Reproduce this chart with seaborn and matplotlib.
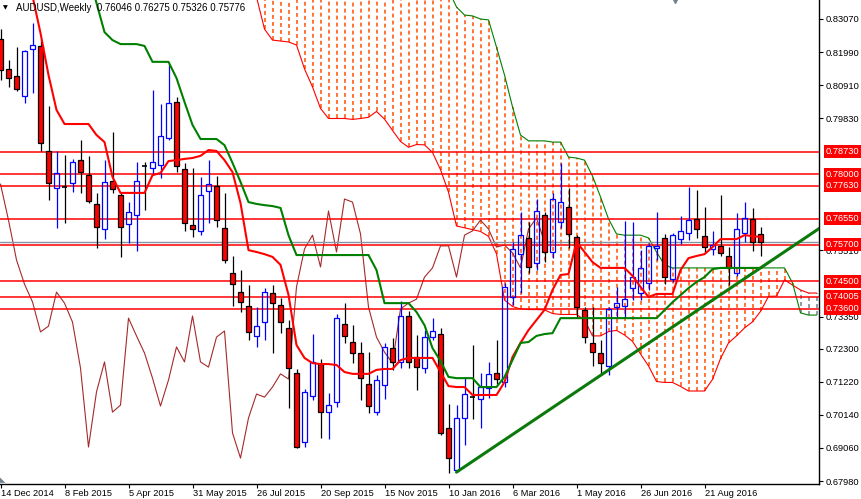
import numpy as np
import pandas as pd
import matplotlib
matplotlib.use("Agg")
import matplotlib.pyplot as plt
import matplotlib.transforms as mtransforms
import seaborn as sns

nan = np.nan
symbol = "AUDUSD,Weekly"
dates = pd.date_range("2014-12-14", periods=96, freq="W-SUN")

# weekly candles
opens = [
    0.8242, 0.8144, 0.8121, 0.8055, 0.8209, 0.8219, 0.7876, 0.7755, 0.7758, 0.7771,
    0.7846, 0.7797, 0.7703, 0.7621, 0.7778, 0.7732, 0.7637, 0.7667, 0.7827, 0.7820,
    0.7830, 0.7918, 0.8036, 0.7817, 0.7634, 0.7615, 0.7745, 0.7762, 0.7624, 0.7477,
    0.7415, 0.7370, 0.7272, 0.7317, 0.7412, 0.7373, 0.7298, 0.7151, 0.6925, 0.7076,
    0.7180, 0.7023, 0.7056, 0.7311, 0.7252, 0.7216, 0.7115, 0.7023, 0.7112, 0.7232,
    0.7187, 0.7337, 0.7203, 0.7167, 0.7268, 0.7278, 0.6971, 0.6834, 0.7004, 0.7072,
    0.7066, 0.7102, 0.7151, 0.7121, 0.7399, 0.7539, 0.7592, 0.7510, 0.7667, 0.7546,
    0.7644, 0.7693, 0.7595, 0.7357, 0.7249, 0.7216, 0.7174, 0.7366, 0.7370, 0.7428,
    0.7412, 0.7445, 0.7559, 0.7592, 0.7458, 0.7588, 0.7608, 0.7654, 0.7598, 0.7556,
    0.7566, 0.7533, 0.7477, 0.7608, 0.7654, 0.76046]
highs = [
    0.8274, 0.8173, 0.8215, 0.8206, 0.8294, 0.8238, 0.8023, 0.7876, 0.7863, 0.7850,
    0.7912, 0.7860, 0.7739, 0.7846, 0.7938, 0.7739, 0.7709, 0.7840, 0.7840, 0.8075,
    0.8029, 0.8160, 0.8052, 0.7837, 0.7820, 0.7791, 0.7846, 0.7794, 0.7739, 0.7533,
    0.7487, 0.7438, 0.7366, 0.7428, 0.7438, 0.7396, 0.7324, 0.7164, 0.7099, 0.7278,
    0.7197, 0.7085, 0.7344, 0.7379, 0.7307, 0.7252, 0.7219, 0.7144, 0.7249, 0.7265,
    0.7386, 0.7353, 0.7275, 0.7291, 0.7330, 0.7298, 0.7050, 0.7046, 0.7138, 0.7242,
    0.7151, 0.7187, 0.7259, 0.7445, 0.7579, 0.7677, 0.7644, 0.7719, 0.7677, 0.7739,
    0.7837, 0.7755, 0.7601, 0.7366, 0.7366, 0.7259, 0.7366, 0.7432, 0.7647, 0.7644,
    0.7552, 0.7575, 0.7677, 0.7605, 0.7608, 0.7664, 0.7758, 0.7748, 0.7693, 0.7615,
    0.7732, 0.7562, 0.7673, 0.7709, 0.7690, 0.76275]
lows = [
    0.8108, 0.8085, 0.8072, 0.8033, 0.8065, 0.7876, 0.7716, 0.7624, 0.7641, 0.7742,
    0.7739, 0.7706, 0.7559, 0.7588, 0.7739, 0.7530, 0.7575, 0.7549, 0.7683, 0.7797,
    0.7788, 0.7912, 0.7807, 0.7615, 0.7595, 0.7601, 0.7641, 0.7628, 0.7510, 0.7370,
    0.7350, 0.7259, 0.7236, 0.7259, 0.7216, 0.7281, 0.7036, 0.6906, 0.6909, 0.7063,
    0.6939, 0.6935, 0.7040, 0.7249, 0.7183, 0.7063, 0.7020, 0.7014, 0.7066, 0.7161,
    0.7167, 0.7167, 0.7095, 0.7151, 0.7259, 0.6948, 0.6824, 0.6827, 0.6916, 0.7001,
    0.6971, 0.7069, 0.7115, 0.7105, 0.7373, 0.7412, 0.7477, 0.7487, 0.7513, 0.7526,
    0.7624, 0.7559, 0.7330, 0.7249, 0.7174, 0.7144, 0.7144, 0.7330, 0.7330, 0.7389,
    0.7389, 0.7422, 0.7520, 0.7441, 0.7448, 0.7572, 0.7585, 0.7592, 0.7543, 0.7536,
    0.7533, 0.7438, 0.7468, 0.7579, 0.7549, 0.75326]
closes = [
    0.8140, 0.8114, 0.8078, 0.8202, 0.8222, 0.7902, 0.7771, 0.7804, 0.7758, 0.7840,
    0.7807, 0.7713, 0.7628, 0.7775, 0.7752, 0.7628, 0.7677, 0.7778, 0.7827, 0.7840,
    0.7925, 0.8033, 0.7827, 0.7641, 0.7621, 0.7732, 0.7768, 0.7650, 0.7520, 0.7441,
    0.7383, 0.7285, 0.7304, 0.7415, 0.7379, 0.7317, 0.7167, 0.6909, 0.7089, 0.7187,
    0.7023, 0.7046, 0.7330, 0.7272, 0.7216, 0.7134, 0.7043, 0.7128, 0.7236, 0.7187,
    0.7337, 0.7187, 0.7170, 0.7268, 0.7288, 0.6955, 0.6873, 0.7004, 0.7082, 0.7072,
    0.7105, 0.7148, 0.7131, 0.7432, 0.7556, 0.7601, 0.7497, 0.7680, 0.7546, 0.7719,
    0.7709, 0.7605, 0.7366, 0.7268, 0.7219, 0.7183, 0.7360, 0.7379, 0.7392, 0.7464,
    0.7494, 0.7566, 0.7566, 0.7464, 0.7601, 0.7615, 0.7650, 0.7621, 0.7562, 0.7569,
    0.7543, 0.7494, 0.7621, 0.7657, 0.7579, 0.75776]

# Ichimoku lines as drawn (tenkan red, kijun green), one value per week
tenkan = [
    nan, nan, nan, nan, 0.8382, 0.8261, 0.8124, 0.8010, 0.7964, 0.7964,
    0.7964, 0.7964, 0.7928, 0.7905, 0.7791, 0.7739, 0.7739, 0.7739, 0.7739, 0.7797,
    0.7804, 0.7843, 0.7846, 0.7850, 0.7853, 0.7860, 0.7879, 0.7876, 0.7846, 0.7807,
    0.7706, 0.7552, 0.7546, 0.7539, 0.7530, 0.7504, 0.7406, 0.7242, 0.7200, 0.7183,
    0.7180, 0.7180, 0.7177, 0.7154, 0.7148, 0.7148, 0.7148, 0.7161, 0.7164, 0.7164,
    0.7193, 0.7200, 0.7200, 0.7200, 0.7200, 0.7154, 0.7108, 0.7105, 0.7105, 0.7079,
    0.7079, 0.7079, 0.7079, 0.7121, 0.7203, 0.7249, 0.7291, 0.7324, 0.7357, 0.7422,
    0.7471, 0.7474, 0.7579, 0.7546, 0.7513, 0.7494, 0.7494, 0.7494, 0.7494, 0.7468,
    0.7432, 0.7399, 0.7409, 0.7409, 0.7409, 0.7487, 0.7526, 0.7533, 0.7539, 0.7562,
    0.7588, 0.7588, 0.7588, 0.7601, 0.7598, 0.7595]
kijun = [
    nan, nan, nan, nan, nan, nan, nan, nan, nan, nan,
    nan, 0.8450, 0.8359, 0.8264, 0.8238, 0.8225, 0.8225, 0.8225, 0.8219, 0.8167,
    0.8167, 0.8167, 0.8114, 0.8036, 0.7961, 0.7915, 0.7915, 0.7915, 0.7895, 0.7837,
    0.7775, 0.7709, 0.7703, 0.7699, 0.7696, 0.7690, 0.7601, 0.7536, 0.7536, 0.7536,
    0.7536, 0.7536, 0.7536, 0.7536, 0.7536, 0.7536, 0.7536, 0.7487, 0.7379, 0.7379,
    0.7379, 0.7379, 0.7350, 0.7307, 0.7232, 0.7190, 0.7138, 0.7134, 0.7134, 0.7134,
    0.7105, 0.7105, 0.7105, 0.7138, 0.7193, 0.7249, 0.7252, 0.7272, 0.7278, 0.7281,
    0.7330, 0.7330, 0.7330, 0.7330, 0.7330, 0.7330, 0.7330, 0.7330, 0.7330, 0.7330,
    0.7330, 0.7330, 0.7330, 0.7356, 0.7382, 0.7405, 0.7428, 0.7448, 0.7464, 0.7490,
    0.7494, 0.7494, 0.7494, 0.7494, 0.7494, 0.7494]
# senkou spans (already shifted forward, run 7 weeks past the last bar)
span_a = [
    nan, nan, nan, nan, nan, nan, nan, nan, nan, nan,
    nan, nan, nan, nan, nan, nan, nan, nan, nan, nan,
    nan, nan, nan, nan, nan, nan, nan, nan, nan, nan,
    nan, nan, 0.8379, 0.8274, 0.8238, 0.8235, 0.8232, 0.8222, 0.8144, 0.8085,
    0.8015, 0.7982, 0.7982, 0.7982, 0.7979, 0.7982, 0.7986, 0.8005, 0.7980, 0.7943,
    0.7907, 0.7888, 0.7897, 0.7896, 0.7871, 0.7815, 0.7741, 0.7631, 0.7625, 0.7619,
    0.7613, 0.7597, 0.7540, 0.7389, 0.7368, 0.7360, 0.7358, 0.7358, 0.7357, 0.7345,
    0.7342, 0.7342, 0.7342, 0.7324, 0.7272, 0.7272, 0.7286, 0.7290, 0.7275, 0.7254,
    0.7213, 0.7174, 0.7123, 0.7120, 0.7120, 0.7107, 0.7092, 0.7092, 0.7092, 0.7130,
    0.7198, 0.7249, 0.7272, 0.7298, 0.7318, 0.7352, 0.7401, 0.7402, 0.7455, 0.7438,
    0.7422, 0.7412, 0.7412]
span_b = [
    nan, nan, nan, nan, nan, nan, nan, nan, nan, nan,
    nan, nan, nan, nan, nan, nan, nan, nan, nan, nan,
    nan, nan, nan, nan, nan, nan, nan, nan, nan, nan,
    0.8700, 0.8700, 0.8700, 0.8700, 0.8700, 0.8700, 0.8700, 0.8700, 0.8700, 0.8700,
    0.8700, 0.8700, 0.8700, 0.8700, 0.8700, 0.8700, 0.8700, 0.8700, 0.8700, 0.8700,
    0.8700, 0.8700, 0.8700, 0.8700, 0.8700, 0.8700, 0.8402, 0.8346, 0.8320, 0.8317,
    0.8307, 0.8304, 0.8215, 0.8124, 0.8020, 0.7928, 0.7909, 0.7909, 0.7909, 0.7905,
    0.7905, 0.7856, 0.7853, 0.7846, 0.7794, 0.7726, 0.7654, 0.7605, 0.7601, 0.7601,
    0.7601, 0.7592, 0.7546, 0.7504, 0.7494, 0.7494, 0.7494, 0.7494, 0.7494, 0.7494,
    0.7494, 0.7494, 0.7494, 0.7494, 0.7494, 0.7494, 0.7494, 0.7494, 0.7494, 0.7445,
    0.7347, 0.7340, 0.7340]

levels = [0.78730, 0.78000, 0.77630, 0.76550, 0.75700, 0.74500, 0.74005, 0.73600]
# axis labels still visible (the rest sit under the level tags)
price_ticks = [0.8307, 0.8199, 0.8091, 0.7983, 0.7551, 0.7335,
               0.7230, 0.7122, 0.7014, 0.6906, 0.6798]
trend_idx = [57, 102.4]
trend_price = [0.6827, 0.7624]

sns.set_theme(style="white")
plt.rcParams["font.family"] = ["Liberation Sans", "DejaVu Sans"]

W, H = 862, 499
fig = plt.figure(figsize=(W / 100, H / 100), dpi=100)
ax = fig.add_axes([0, 15 / H, 819 / W, 484 / H])

o, h, l, c = map(np.array, (opens, highs, lows, closes))
idx = np.arange(len(c))
sa, sb = np.array(span_a), np.array(span_b)
cidx = np.arange(len(sa))

# cloud hatching: one dashed vertical line per bar
ok = ~np.isnan(sa) & ~np.isnan(sb)
up = ok & (sb >= sa)
dn = ok & (sb < sa)
dash = (0, (2.6, 2.0))
hatch_up = ax.vlines(cidx[up], sa[up], sb[up], colors="#ff5000", linestyles=dash,
                     lw=1.1, zorder=1)
hatch_dn = ax.vlines(cidx[dn], sb[dn], sa[dn], colors="#708090", linestyles=dash,
                     lw=1.1, zorder=1)
hatch_up.set_snap(True)
hatch_dn.set_snap(True)

sns.lineplot(x=cidx, y=sa, ax=ax, color="red", lw=0.8, estimator=None, sort=False, zorder=2)
sns.lineplot(x=cidx, y=sb, ax=ax, color="green", lw=0.8, estimator=None, sort=False, zorder=2)

# chikou span = closes drawn 26 weeks back
sns.lineplot(x=idx[:-26], y=c[26:], ax=ax, color="#a52a2a", lw=0.8, estimator=None, sort=False, zorder=2)

for lv in levels:
    ax.axhline(lv, color="red", lw=1.1, zorder=3)
ax.axhline(closes[-1], color="#8595a5", lw=1.0, zorder=3)

# candles
bull = c > o
bear = c < o
doji = ~bull & ~bear
ax.vlines(idx[bull], l[bull], o[bull], color="blue", lw=0.9, zorder=4)
ax.vlines(idx[bull], c[bull], h[bull], color="blue", lw=0.9, zorder=4)
ax.bar(idx[bull], c[bull] - o[bull], bottom=o[bull], width=0.62, facecolor="none",
       edgecolor="blue", lw=0.9, zorder=4)
ax.vlines(idx[bear], l[bear], h[bear], color="black", lw=0.9, zorder=4)
ax.bar(idx[bear], o[bear] - c[bear], bottom=c[bear], width=0.62, facecolor="red",
       edgecolor="black", lw=0.9, zorder=5)
ax.vlines(idx[doji], l[doji], h[doji], color="black", lw=0.9, zorder=4)
ax.hlines(c[doji], idx[doji] - 0.31, idx[doji] + 0.31, color="black", lw=1.2, zorder=4)

sns.lineplot(x=idx, y=tenkan, ax=ax, color="red", lw=1.5, estimator=None, sort=False, zorder=6)
sns.lineplot(x=idx, y=kijun, ax=ax, color="#008000", lw=1.5, estimator=None, sort=False, zorder=6)
sns.lineplot(x=trend_idx, y=trend_price, ax=ax, color="#0b7a0b", lw=2.2, estimator=None, sort=False, zorder=7)

ax.set_xlim(-0.0625, 102.31)
ax.set_ylim(0.67883, 0.8369)
ax.set_xlabel("")
ax.set_ylabel("")

for s in ("left", "top"):
    ax.spines[s].set_visible(False)
for s in ("right", "bottom"):
    ax.spines[s].set_color("black")
    ax.spines[s].set_linewidth(1.0)

ax.yaxis.tick_right()
ax.set_yticks(price_ticks)
ax.set_yticklabels([f"{v:.5f}" for v in price_ticks])
xt = idx[::8][:12]
ax.set_xticks(xt)
ax.set_xticklabels([f"{d.day} {d:%b %Y}" for d in dates[xt]], ha="left")
ax.tick_params(axis="y", direction="out", length=3, width=0.8, pad=1.5,
               labelsize=6.7, colors="black", right=True, left=False)
ax.tick_params(axis="x", direction="out", length=3, width=0.8, pad=0.5,
               labelsize=6.7, colors="black", bottom=True)

trans = mtransforms.blended_transform_factory(ax.transAxes, ax.transData)
for lv in levels:
    ax.text(826 / 819, lv, f"{lv:.5f}", transform=trans, ha="left", va="center",
            color="white", fontsize=6.7, clip_on=False, zorder=10,
            bbox=dict(boxstyle="square,pad=0.22", fc="red", ec="none"))

fig.text(16 / W, 1 - 8 / H, f"{symbol}  {opens[-1]:.5f} {highs[-1]:.5f} {lows[-1]:.5f} {closes[-1]:.5f}",
         fontsize=7, color="black", va="center", ha="left")
fig.text(3 / W, 1 - 8 / H, "\u25bc", fontsize=4.5, color="black", va="center", ha="left",
         family=["DejaVu Sans"])
ax.plot([675 / 819], [1.0], marker="v", ms=5, color="#708090", transform=ax.transAxes,
        clip_on=False, zorder=10)
fig.text(0, 1 - 480 / H, "\u25e3", fontsize=5, color="#708090", va="center", ha="left",
         family=["DejaVu Sans"])

fig.savefig("out.png", dpi=100)
